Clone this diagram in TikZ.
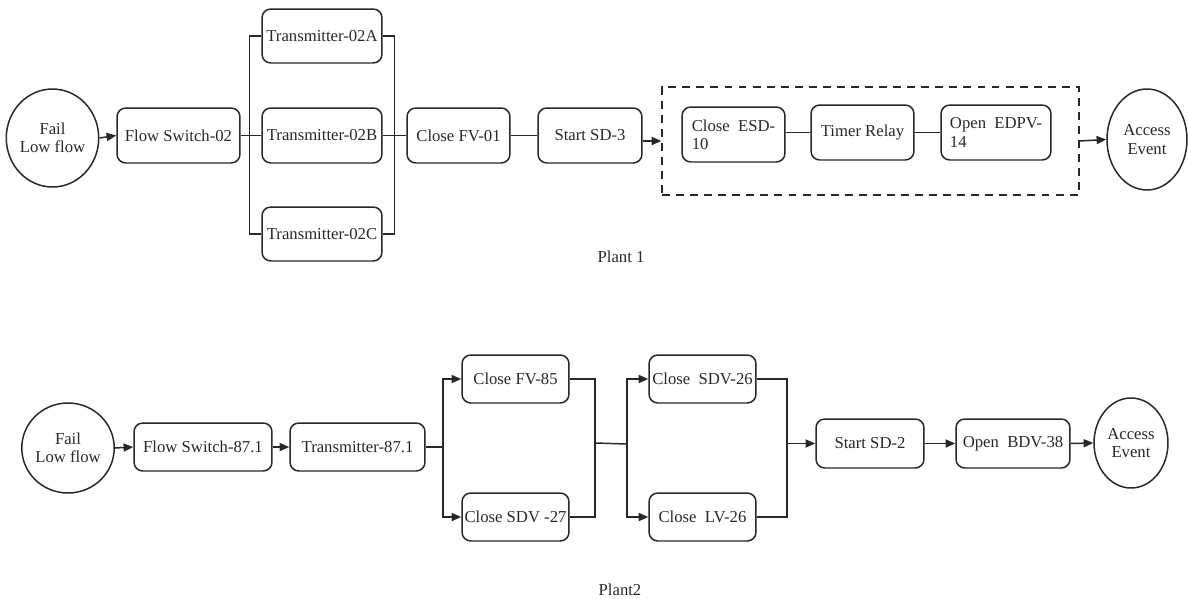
\documentclass[tikz,border=0pt]{standalone}
\usepackage{fontspec}
\setmainfont{Liberation Serif}
\usetikzlibrary{arrows.meta,shapes.geometric}
\definecolor{ink}{RGB}{40,40,40}
\begin{document}
\begin{tikzpicture}[x=0.02cm,y=-0.02cm,
  every node/.style={font=\fontsize{9.5}{10.4}\selectfont,text=ink},
  stepbox/.style={draw=ink,line width=0.85pt,rounded corners=5pt,inner sep=0pt,align=center},
  oval/.style={draw=ink,line width=0.85pt,ellipse,inner sep=0pt,align=center},
  group/.style={draw=ink,line width=0.85pt,dash pattern=on 4.5pt off 3.5pt,inner sep=0pt},
  ln/.style={draw=ink,line width=0.85pt},
  arr/.style={ln,-{Triangle[length=5.5pt,width=4.6pt]}}]
\useasboundingbox (0,0) rectangle (1188,599);

% ---------- Plant 1 ----------
\node[oval,minimum width=1.62cm,minimum height=1.96cm] (f1) at (52.5,138) {Fail\\Low flow};
\node[stepbox,minimum width=2.46cm,minimum height=1.10cm] (fs1) at (178.5,135.5) {Flow Switch-02};
\node[stepbox,minimum width=2.40cm,minimum height=1.08cm] (ta) at (322,36) {Transmitter-02A};
\node[stepbox,minimum width=2.40cm,minimum height=1.10cm] (tb) at (322,135.5) {Transmitter-02B};
\node[stepbox,minimum width=2.40cm,minimum height=1.08cm] (tc) at (322,234) {Transmitter-02C};
\node[stepbox,minimum width=2.06cm,minimum height=1.10cm] (fv1) at (458.5,135.5) {Close FV-01};
\node[stepbox,minimum width=2.08cm,minimum height=1.10cm] (sd3) at (590,135.5) {Start SD-3};
\node[group,minimum width=8.34cm,minimum height=2.16cm] (grp) at (870.5,141) {};
\node[stepbox,align=left,minimum width=2.06cm,minimum height=1.10cm] (esd) at (733.5,134.5) {Close~ ESD-\\10};
\node[stepbox,minimum width=2.06cm,minimum height=1.10cm] (tr) at (862.5,132.5) {Timer Relay};
\node[stepbox,align=left,minimum width=2.20cm,minimum height=1.10cm] (edpv) at (996,132.5) {Open~ EDPV-\\14};
\node[oval,minimum width=1.60cm,minimum height=2.02cm] (ae1) at (1147,139.5) {Access\\Event};
\node (p1) at (621,257) {Plant 1};

\draw[arr] (f1.east) -- (fs1.west);
\draw[ln] (fs1.east) -- (tb.west);
\draw[ln] (ta.west) -- ++(-12,0) |- (tc.west);
\draw[ln] (ta.east) -- ++(12,0) |- (tc.east);
\draw[ln] (tb.east) -- (fv1.west);
\draw[ln] (fv1.east) -- (sd3.west);
\draw[arr] (sd3.east |- grp.west) -- (grp.west);
\draw[ln] (tr.west -| esd.east) -- (tr.west);
\draw[ln] (tr.east) -- (edpv.west);
\draw[arr] (grp.east) -- (ae1.west);

% ---------- Plant 2 ----------
\node[oval,minimum width=1.68cm,minimum height=1.80cm] (f2) at (68,448) {Fail\\Low flow};
\node[stepbox,minimum width=2.76cm,minimum height=0.96cm] (fs2) at (203,447) {Flow Switch-87.1};
\node[stepbox,minimum width=2.70cm,minimum height=0.96cm] (t2) at (357.5,447) {Transmitter-87.1};
\node[stepbox,minimum width=2.14cm,minimum height=0.96cm] (fv85) at (515.5,379) {Close FV-85};
\node[stepbox,minimum width=2.14cm,minimum height=0.96cm] (sdv27) at (515.5,517) {Close SDV -27};
\node[stepbox,minimum width=2.14cm,minimum height=0.96cm] (sdv26) at (702.5,379) {Close~ SDV-26};
\node[stepbox,minimum width=2.14cm,minimum height=0.96cm] (lv26) at (702.5,517) {Close~ LV-26};
\node[stepbox,minimum width=2.16cm,minimum height=0.98cm] (sd2) at (870,443.5) {Start SD-2};
\node[stepbox,minimum width=2.28cm,minimum height=0.98cm] (bdv) at (1013,443.5) {Open~ BDV-38};
\node[oval,minimum width=1.48cm,minimum height=1.80cm] (ae2) at (1131,443) {Access\\Event};
\node (p2) at (620,590) {Plant2};

\coordinate (s1) at (443,447);
\coordinate (j1) at (595,443);
\coordinate (s2) at (627,444);
\coordinate (j2) at (787,443.5);

\draw[arr] (f2.east) -- (fs2.west);
\draw[arr] (fs2.east) -- (t2.west);
\draw[ln] (t2.east) -- (s1);
\draw[arr] (s1) |- (fv85.west);
\draw[arr] (s1) |- (sdv27.west);
\draw[ln] (fv85.east) -| (j1) |- (sdv27.east);
\draw[ln] (j1) -- (s2);
\draw[arr] (s2) |- (sdv26.west);
\draw[arr] (s2) |- (lv26.west);
\draw[ln] (sdv26.east) -| (j2) |- (lv26.east);
\draw[arr] (j2) -- (sd2.west);
\draw[arr] (sd2.east) -- (bdv.west);
\draw[arr] (bdv.east) -- (ae2.west);
\end{tikzpicture}
\end{document}
